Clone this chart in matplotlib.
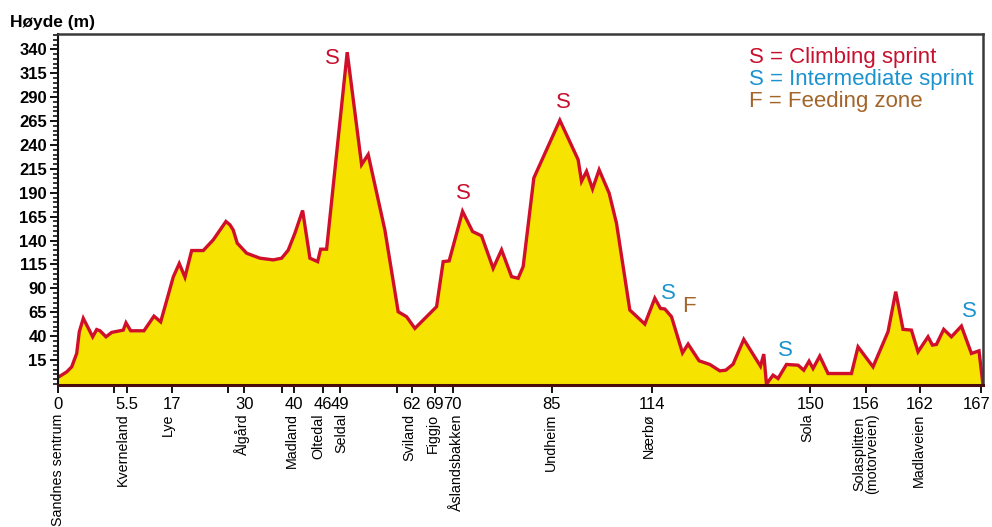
import matplotlib
matplotlib.use("Agg")
import matplotlib.pyplot as plt
import numpy as np
from matplotlib.ticker import MultipleLocator

plt.rcParams['font.family'] = ['Liberation Sans', 'DejaVu Sans']

# ---- data ----
# horizontal position along the drawn profile (chart units) and elevation (m)
profile_x = [0, 8.7, 13.7, 18.7, 21.3, 25.3, 34.7, 38.7, 42, 48, 53.7, 65.3, 68, 72.7, 86, 96,
             102.7, 109.7, 115.3, 121.3, 127, 133.7, 145.3, 155.3, 168, 172, 175.3, 179.3, 188.7,
             202, 215.3, 223.7, 230.3, 237, 244.7, 252, 259.7, 262.7, 268.7, 289.3, 303.7, 310.3,
             327, 340.3, 348.7, 357, 378.7, 385.3, 391.3, 404.7, 414.7, 423.7, 435.3, 443.7,
             453.7, 460.3, 465.3, 476, 502, 520.3, 523.7, 528.7, 534.7, 541.3, 551.3, 558.7,
             572, 587, 597, 602.7, 607, 613.7, 624.7, 630.3, 641.3, 652, 662, 668, 675.3, 686,
             702.7, 706, 708.7, 715.3, 720.3, 728.7, 740.3, 746, 751.3, 755.3, 762, 770.3,
             793.7, 800.3, 815.3, 830.3, 838, 845.3, 853.7, 860.3, 870.3, 874.7, 878.7, 886,
             893.7, 903.7, 913.7, 921.3, 925.3]
elevation = [-3, 2.7, 8, 22, 44.7, 58.7, 39.4, 47, 45.7, 39.4, 44, 46.4, 54, 45.7, 45.7, 61,
             55, 81, 102, 116, 101.7, 129.6, 129.6, 140.8, 160, 156.5, 151, 137.3, 126.8,
             121.6, 119.8, 121.6, 130, 147.8, 171.5, 121.6, 118, 131, 131, 337, 219.4, 230,
             151, 65.6, 60.4, 48.2, 70.9, 118, 118.8, 170.5, 149.5, 145, 111, 130.3,
             102.3, 100.6, 112.8, 205.5, 265.8, 224.6, 202, 212.4, 194, 214, 189.7, 158,
             67.4, 52.7, 79.7, 69, 68.5, 60.4, 22.6, 31.8, 14.3, 10.5, 3.8, 4.5, 10.8, 36.7,
             8.7, 21.3, -10, -0.7, -4.2, 10.5, 9.7, 4.5, 13.9, 6.3, 19.2, 1,
             1, 28.9, 8, 44.7, 86.6, 47.2, 46.4, 23.7, 39.4, 30.7, 31.4, 47.2,
             39.4, 50.6, 22, 24.7, -11]

km_labels = ['0', '', '5.5', '17', '', '30', '', '40', '46', '49', '', '62', '69', '70',
             '85', '114', '150', '156', '162', '167']
km_tick_x = [0, 56, 68.7, 113.7, 169.7, 186.3, 224.3, 236.3, 264.7, 282, 338.7, 353.7, 377,
             394.7, 494, 594, 752.7, 808, 862, 923]

places = ['Sandnes sentrum', 'Kverneland', 'Lye', 'Ålgård', 'Madland', 'Oltedal', 'Seldal',
          'Sviland', 'Figgjo', 'Åslandsbakken', 'Undheim', 'Nærbø', 'Sola',
          'Solasplitten\n(motorveien)', 'Madlaveien']
place_x = [0, 65, 110, 183.7, 233.7, 260, 283.7, 351, 374.7, 398.7, 493, 591, 750, 808, 861]

marker_text = ['S', 'S', 'S', 'S', 'F', 'S', 'S']
marker_kind = ['climb', 'climb', 'climb', 'inter', 'feed', 'inter', 'inter']
marker_x = [274, 405.3, 505.3, 610.3, 631.3, 728, 912]
marker_y = [330.5, 189.7, 284, 84.9, 71.6, 25.5, 65.6]

legend_labels = ['S = Climbing sprint', 'S = Intermediate sprint', 'F = Feeding zone']

y_ticks = list(range(15, 341, 25))

# ---- style ----
RED = '#d0102a'
YELLOW = '#f6e400'
colors = {'climb': '#c8102e', 'inter': '#1b93cf', 'feed': '#a3652a'}
legend_colors = [colors['climb'], colors['inter'], colors['feed']]

fig = plt.figure(figsize=(9.92, 5.27), dpi=100)
ax = fig.add_axes([58/992, 1-385/527, (983-58)/992, (385-34)/527])

ybot, ytop = -11, 356
ax.fill_between(profile_x, elevation, ybot, color=YELLOW, zorder=1, linewidth=0)
ax.plot(profile_x, elevation, color=RED, lw=2.4, zorder=2, solid_joinstyle='miter')

ax.set_xlim(0, 925.3)
ax.set_ylim(ybot, ytop)

ax.set_yticks(y_ticks)
ax.set_yticklabels([str(v) for v in y_ticks], fontweight='bold', fontsize=12)
ax.yaxis.set_minor_locator(MultipleLocator(5))
ax.tick_params(axis='y', which='major', length=6, width=1.3, direction='out', pad=2)
ax.tick_params(axis='y', which='minor', length=3.5, width=1.1, direction='out')

# last km label is drawn separately, nudged inward so it stays inside the figure
ax.set_xticks(km_tick_x)
ax.set_xticklabels(km_labels[:-1] + [''], fontsize=12)
ax.tick_params(axis='x', which='major', length=6, width=1.3, direction='out', pad=2.5)
ax.annotate(km_labels[-1], xy=(km_tick_x[-1], 0), xycoords=('data', 'axes fraction'),
            xytext=(-3, -8.5), textcoords='offset points', ha='center', va='top',
            fontsize=12)

for s in ['top', 'right']:
    ax.spines[s].set_color('#3a3a3a')
    ax.spines[s].set_linewidth(1.8)
ax.spines['left'].set_color('#111111')
ax.spines['left'].set_linewidth(1.5)
ax.spines['bottom'].set_color('#4a0d0d')
ax.spines['bottom'].set_linewidth(2.2)
ax.spines['bottom'].set_zorder(3)

for name, x in zip(places, place_x):
    ax.annotate(name, xy=(x, 0), xycoords=('data', 'axes fraction'),
                xytext=(0, -20.5), textcoords='offset points',
                rotation=90, ha='center', va='top', fontsize=10.3,
                multialignment='center', linespacing=0.95)

for t, k, x, y in zip(marker_text, marker_kind, marker_x, marker_y):
    ax.text(x, y, t, color=colors[k], fontsize=16, ha='center', va='center', zorder=4)

fig.text(10/992, 1-22.7/527, 'Høyde (m)', fontsize=12.5, fontweight='bold',
         ha='left', va='center')

leg_y = [57.3, 79.3, 101.7]
for lab, c, yy in zip(legend_labels, legend_colors, leg_y):
    fig.text(749.3/992, 1-yy/527, lab, color=c, fontsize=16, ha='left', va='center')

fig.savefig('out.png', dpi=100)
